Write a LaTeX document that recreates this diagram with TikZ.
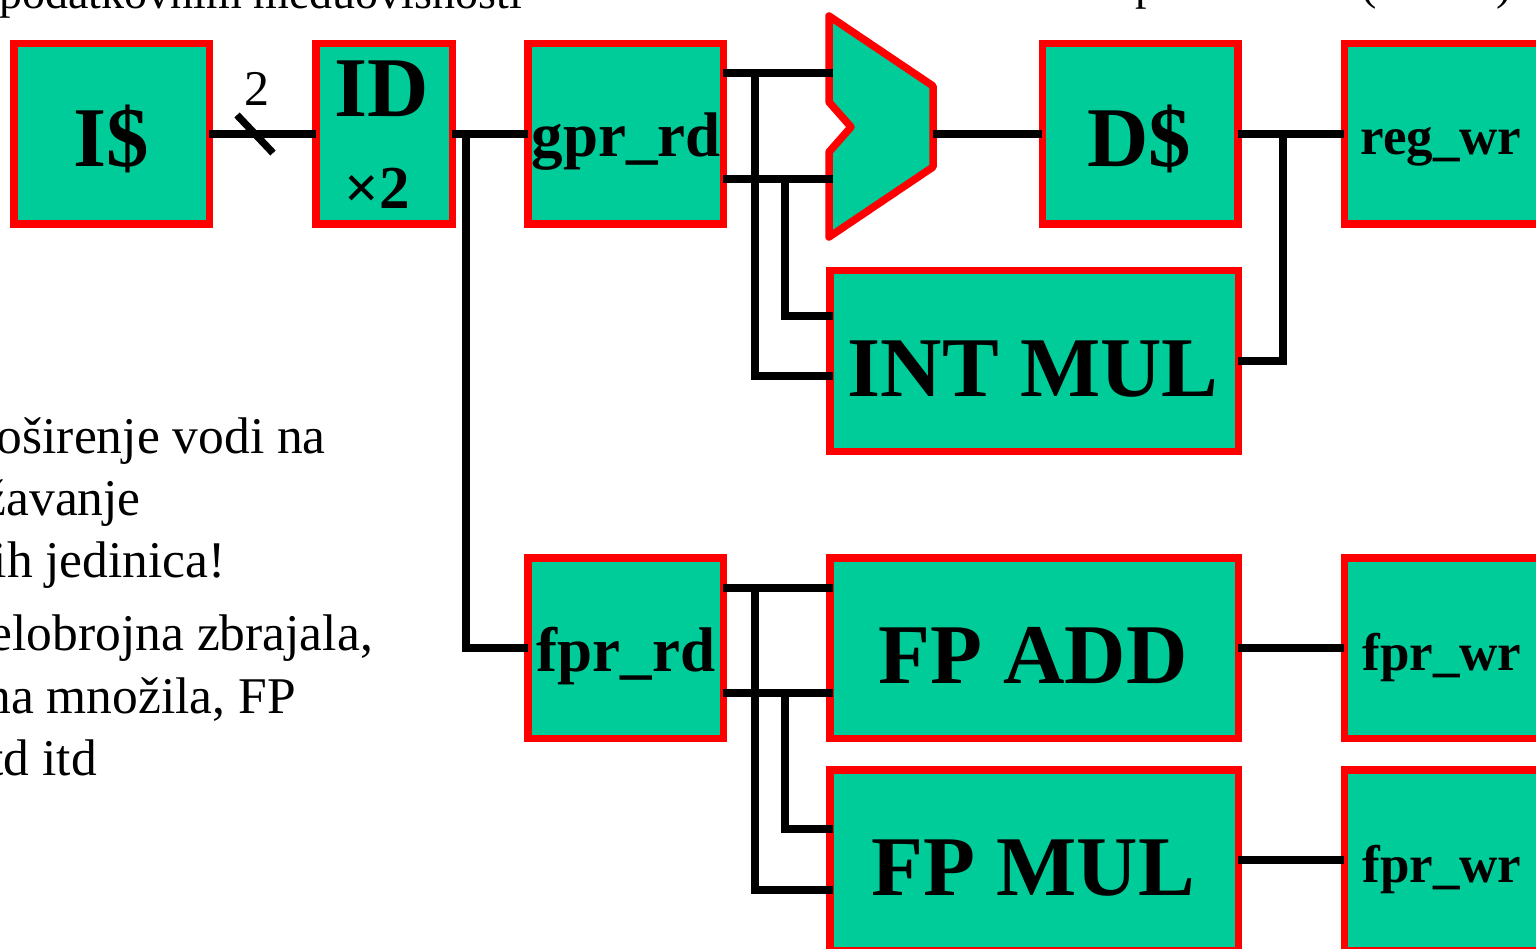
\documentclass[tikz,border=0pt]{standalone}
\usepackage{fontspec}
\setmainfont{Liberation Serif}
\definecolor{boxgreen}{RGB}{0,204,153}
\definecolor{boxred}{RGB}{255,0,0}
\tikzset{
  unit/.style={draw=boxred, fill=boxgreen, line width=7.5pt, inner sep=0pt, outer sep=0pt,
    minimum width=195.5pt, minimum height=180.5pt},
  wideunit/.style={unit, minimum width=408.5pt},
  wire/.style={line width=7.3pt, draw=black},
  bigtxt/.style={font=\fontsize{85}{90}\selectfont\bfseries, inner sep=0pt, anchor=base},
  midtxt/.style={font=\fontsize{63}{70}\selectfont\bfseries, inner sep=0pt, anchor=base},
  smalltxt/.style={font=\fontsize{53}{60}\selectfont\bfseries, inner sep=0pt, anchor=base},
  bodytxt/.style={font=\fontsize{51.5}{60}\selectfont, inner sep=0pt, anchor=base east},
}
\begin{document}
\begin{tikzpicture}[x=1pt,y=-1pt]
\useasboundingbox (0,0) rectangle (1536,949);

% top texts (cropped by the page edge)
\node[font=\fontsize{46}{50}\selectfont, inner sep=0pt, anchor=base west] (toptextL) at (-1,9) {podatkovnim međuovisnosti};
\node[font=\fontsize{46}{50}\selectfont, inner sep=0pt, anchor=base east] (toptextR) at (1512,0) {paralelizma (VLIW)};

% left text
\node[bodytxt] (l1) at (326,453) {Proširenje vodi na};
\node[bodytxt] (l2) at (141,515) {umnožavanje};
\node[bodytxt] (l3) at (226,577) {funkcijskih jedinica!};
\node[bodytxt] (l4) at (373,650) {Cjelobrojna zbrajala,};
\node[bodytxt] (l5) at (296,713) {cjelobrojna množila, FP};
\node[bodytxt] (l6) at (97,775) {itd itd};

% boxes
\node[unit] (icache) at (111.5,134) {};
\node[unit, minimum width=136.5pt] (id) at (384,134) {};
\node[unit] (gpr) at (625.5,134) {};
\node[unit] (dcache) at (1140,134) {};
\node[unit] (regwr) at (1442,134) {};
\node[wideunit] (intmul) at (1034,361) {};
\node[unit] (fpr) at (625.5,648) {};
\node[wideunit] (fpadd) at (1034,648) {};
\node[wideunit] (fpmul) at (1034,860) {};
\node[unit] (fprwrA) at (1442,648) {};
\node[unit] (fprwrB) at (1442,860) {};

% ALU
\draw[draw=boxred, fill=boxgreen, line width=7.5pt, line join=round]
  (829,16) -- (933,86) -- (933,167) -- (829,237) -- (829,152) -- (851,127) -- (829,102) -- cycle;
\coordinate (aluinA) at (833,73);
\coordinate (aluinB) at (833,179);
\coordinate (aluout) at (933,134);

% wires
\draw[wire] (icache.east) -- (id.west);
\coordinate (slashA) at (237,115);
\coordinate (slashB) at (273,153);
\draw[wire] (slashA) -- (slashB);
\node[font=\fontsize{50}{55}\selectfont, inner sep=0pt, anchor=base] (two) at (257,106) {2};

\draw[wire] (id.east) -- (gpr.west);
\coordinate (jid) at (466,134);
\draw[wire] (jid) |- (fpr.west);

\draw[wire] (gpr.east |- aluinA) -- (aluinA);
\draw[wire] (gpr.east |- aluinB) -- (aluinB);
\coordinate (gA) at (755,73);
\coordinate (gB) at (785,179);
\draw[wire] (gA) |- ([yshift=-15pt,xshift=3pt]intmul.west);
\draw[wire] (gB) |- ([yshift=45pt,xshift=3pt]intmul.west);

\draw[wire] (aluout) -- (dcache.west);
\draw[wire] (dcache.east) -- (regwr.west);
\coordinate (jd) at (1283,134);
\draw[wire] (jd) |- (intmul.east);

\draw[wire] ([yshift=60pt]fpr.east) -- ([yshift=60pt,xshift=3pt]fpadd.west);
\draw[wire] ([yshift=-45pt]fpr.east) -- ([yshift=-45pt,xshift=3pt]fpadd.west);
\coordinate (fA) at (755,588);
\coordinate (fB) at (785,693);
\draw[wire] (fA) |- ([yshift=-30pt,xshift=3pt]fpmul.west);
\draw[wire] (fB) |- ([yshift=31pt,xshift=3pt]fpmul.west);

\draw[wire] (fpadd.east) -- (fprwrA.west);
\draw[wire] (fpmul.east) -- (fprwrB.west);

% box labels
\node[bigtxt] (ticache) at (111.5,167) {I\$};
\node[bigtxt] (tid) at (382,117) {ID};
\node[font=\fontsize{61}{66}\selectfont\bfseries, inner sep=0pt, anchor=base] (tidx) at (377,209) {×2};
\node[midtxt] (tgpr) at (626,157) {gpr\_rd};
\node[bigtxt] (tdcache) at (1139,167) {D\$};
\node[smalltxt] (tregwr) at (1441,155) {reg\_wr};
\node[bigtxt] (tintmul) at (1033,396) {INT MUL};
\node[midtxt] (tfpr) at (626,671) {fpr\_rd};
\node[bigtxt] (tfpadd) at (1033,683) {FP ADD};
\node[smalltxt] (tfprwrA) at (1442,670) {fpr\_wr};
\node[bigtxt] (tfpmul) at (1033,895) {FP MUL};
\node[smalltxt] (tfprwrB) at (1442,882) {fpr\_wr};
\end{tikzpicture}
\end{document}
